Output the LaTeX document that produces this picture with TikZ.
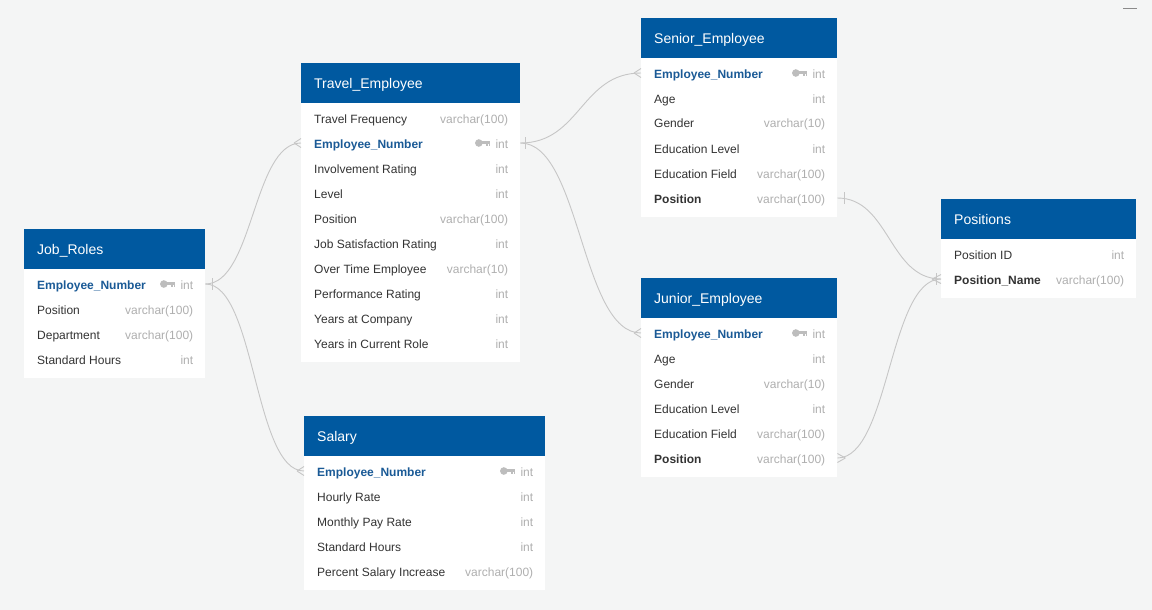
\documentclass[tikz,border=0pt]{standalone}
\usepackage{fontspec}
\setmainfont{Liberation Sans}
\definecolor{bgc}{HTML}{F4F5F5}
\definecolor{hdrc}{HTML}{0059A0}
\definecolor{pkc}{HTML}{1A5A96}
\definecolor{txtc}{HTML}{333333}
\definecolor{typc}{HTML}{AFAFAF}
\definecolor{linec}{HTML}{C6C6C6}
\definecolor{keyc}{HTML}{BDBDBD}
\definecolor{minc}{HTML}{8A8A8A}
\tikzset{
 hdr/.style={fill=hdrc, draw=none, minimum height=40pt, inner sep=0pt},
 hdrtext/.style={text=white, font=\fontsize{14}{16}\selectfont, inner sep=0pt, text height=10pt, text depth=3pt},
 tbody/.style={fill=white, draw=none, inner sep=0pt},
 rowbox/.style={draw=none, inner sep=0pt, minimum height=25pt},
 cell/.style={inner sep=0pt, font=\fontsize{12}{14}\selectfont, text height=8.6pt, text depth=2.6pt},
 fn/.style={cell, text=txtc},
 fk/.style={cell, text=pkc, font=\fontsize{12}{14}\selectfont\bfseries},
 fb/.style={cell, text=txtc, font=\fontsize{12}{14}\selectfont\bfseries},
 ftype/.style={cell, text=typc},
 conn/.style={draw=linec, line width=0.9pt},
 keyicon/.pic={
   \fill[keyc] (-11.5,0) circle (3.8);
   \fill[keyc] (-11.5,-1.6) rectangle (0,1.4);
   \fill[keyc] (-4.6,1.4) rectangle (-2.8,3.4);
   \fill[keyc] (-1.8,1.4) rectangle (0,3.4);
 }
}
\newcommand\ertable[7]{%
 \node[tbody, minimum width=#4pt, minimum height={25*#5+9}, anchor=north west] (#1-b) at (#2,#3+40) {};
 \node[hdr, minimum width=#4pt, anchor=north west] (#1) at (#2,#3) {};
 \node[hdrtext, anchor=west] (#1-title) at ([xshift=13pt,yshift=-1.5pt]#1.west) {#6};
 \foreach \fname/\fty/\fsty/\fkey [count=\i] in {#7} {
   \node[rowbox, minimum width=#4pt, anchor=west] (#1-\i) at (#2,#3+30+25*\i) {};
   \node[\fsty, anchor=west] (#1-\i-n) at ([xshift=13pt,yshift=-2pt]#1-\i.west) {\fname};
   \node[ftype, anchor=east] (#1-\i-t) at ([xshift=-12pt,yshift=-2pt]#1-\i.east) {\fty};
   \ifnum\fkey=1 \pic at ([xshift=-5pt,yshift=2pt]#1-\i-t.west) {keyicon};\fi
 }
}
\newcommand\crowW[2]{\draw[conn] ([xshift=-#2pt]#1.west) -- ([yshift=-4.5pt]#1.west) ([xshift=-#2pt]#1.west) -- ([yshift=4.5pt]#1.west);}
\newcommand\crowE[2]{\draw[conn] ([xshift=#2pt]#1.east) -- ([yshift=-4.5pt]#1.east) ([xshift=#2pt]#1.east) -- ([yshift=4.5pt]#1.east);}
\newcommand\tickE[2]{\draw[conn] ([xshift=#2pt]#1.east) ++(0,-6) -- ++(0,12);}
\newcommand\tickW[2]{\draw[conn] ([xshift=-#2pt]#1.west) ++(0,-6) -- ++(0,12);}
\begin{document}
\begin{tikzpicture}[x=1pt,y=-1pt]
\fill[bgc] (0,0) rectangle (1152,610);
\useasboundingbox (0,0) rectangle (1152,610);
\draw[minc, line width=1.6pt] (1123,8.5) -- (1137,8.5);

\ertable{jr}{24}{229}{181}{4}{Job\_Roles}{
 Employee\_Number/int/fk/1,
 Position/varchar(100)/fn/0,
 Department/varchar(100)/fn/0,
 Standard Hours/int/fn/0}

\ertable{te}{301}{63}{219}{10}{Travel\_Employee}{
 Travel Frequency/varchar(100)/fn/0,
 Employee\_Number/int/fk/1,
 Involvement Rating/int/fn/0,
 Level/int/fn/0,
 Position/varchar(100)/fn/0,
 Job Satisfaction Rating/int/fn/0,
 Over Time Employee/varchar(10)/fn/0,
 Performance Rating/int/fn/0,
 Years at Company/int/fn/0,
 Years in Current Role/int/fn/0}

\ertable{sa}{304}{416}{241}{5}{Salary}{
 Employee\_Number/int/fk/1,
 Hourly Rate/int/fn/0,
 Monthly Pay Rate/int/fn/0,
 Standard Hours/int/fn/0,
 Percent Salary Increase/varchar(100)/fn/0}

\ertable{se}{641}{18}{196}{6}{Senior\_Employee}{
 Employee\_Number/int/fk/1,
 Age/int/fn/0,
 Gender/varchar(10)/fn/0,
 Education Level/int/fn/0,
 Education Field/varchar(100)/fn/0,
 Position/varchar(100)/fb/0}

\ertable{ju}{641}{278}{196}{6}{Junior\_Employee}{
 Employee\_Number/int/fk/1,
 Age/int/fn/0,
 Gender/varchar(10)/fn/0,
 Education Level/int/fn/0,
 Education Field/varchar(100)/fn/0,
 Position/varchar(100)/fb/0}

\ertable{po}{941}{199}{195}{2}{Positions}{
 Position ID/int/fn/0,
 Position\_Name/varchar(100)/fb/0}

% connectors
\draw[conn] (jr-1.east) .. controls +(48,0) and +(-48,0) .. (te-2.west);
\draw[conn] (jr-1.east) .. controls +(50,0) and +(-50,0) .. (sa-1.west);
\draw[conn] (te-2.east) .. controls +(60,0) and +(-60,0) .. (se-1.west);
\draw[conn] (te-2.east) .. controls +(60,0) and +(-60,0) .. (ju-1.west);
\draw[conn] (se-6.east) .. controls +(52,0) and +(-52,0) .. (po-2.west);
\draw[conn] (ju-6.east) .. controls +(52,0) and +(-52,0) .. (po-2.west);

\tickE{jr-1}{7}
\tickE{te-2}{5}
\tickE{se-6}{7}
\crowW{te-2}{7}
\crowW{sa-1}{7}
\crowW{se-1}{7}
\crowW{ju-1}{7}
\crowE{ju-6}{8}
\crowW{po-2}{9}
\tickW{po-2}{4.5}
\end{tikzpicture}
\end{document}
